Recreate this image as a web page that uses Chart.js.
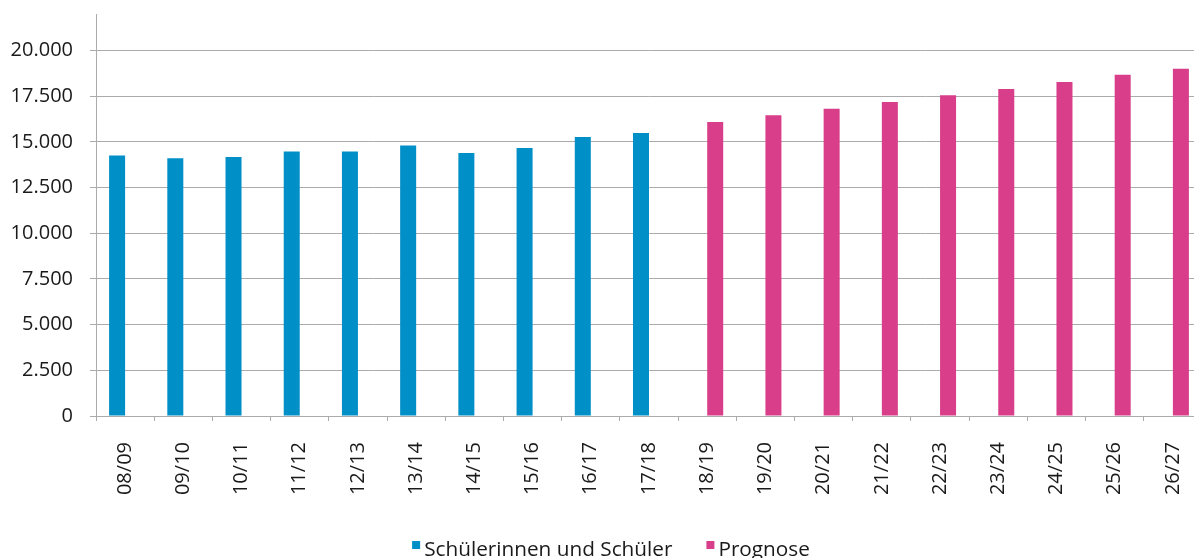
<!DOCTYPE html>
<html>
<head>
<meta charset="utf-8">
<title>Schülerinnen und Schüler – Prognose</title>
<script src="https://cdn.jsdelivr.net/npm/chart.js@4/dist/chart.umd.min.js"></script>
<style>
  html, body { margin: 0; padding: 0; overflow: hidden; background: #fff; }
  #wrap { position: relative; width: 1204px; height: 572px; }
</style>
</head>
<body>
<div id="wrap"><canvas id="chart" width="1204" height="572"></canvas></div>
<script>
// school years
const years = ["08/09", "09/10", "10/11", "11/12", "12/13", "13/14", "14/15", "15/16", "16/17", "17/18",
               "18/19", "19/20", "20/21", "21/22", "22/23", "23/24", "24/25", "25/26", "26/27"];

// actual numbers 08/09 – 17/18
const schueler = [14250, 14100, 14175, 14480, 14480, 14810, 14390, 14670, 15270, 15490];
// forecast 18/19 – 26/27
const prognose = [16090, 16460, 16820, 17190, 17550, 17900, 18280, 18670, 19000];

const yTicks = [0, 2500, 5000, 7500, 10000, 12500, 15000, 17500, 20000];
const yMax = 22000;

const BLUE = "#008fc6";
const PINK = "#d93e8a";
const GRID = "#ababab";
const TEXT = "#1a1a1a";
const FONT = "'Open Sans'";

// pad each series so both share the same category axis
const schuelerData = years.map((_, i) => i < schueler.length ? schueler[i] : null);
const prognoseData = years.map((_, i) => i >= schueler.length ? prognose[i - schueler.length] : null);

const fmt = v => v.toLocaleString("de-DE");

// small square + label legend under the axis
const legendBelow = {
  id: "legendBelow",
  afterDraw(chart) {
    const ctx = chart.ctx;
    const box = 8, gap = 4, spacing = 34, baseline = 556, centre = 611;
    ctx.save();
    ctx.font = `20.75px ${FONT}`;
    ctx.textBaseline = "alphabetic";
    const items = chart.data.datasets.map(ds => ({
      text: ds.label,
      color: ds.backgroundColor,
      w: ctx.measureText(ds.label).width
    }));
    const total = items.reduce((s, it) => s + box + gap + it.w, 0) + spacing * (items.length - 1);
    let x = centre - total / 2;
    items.forEach(it => {
      ctx.fillStyle = it.color;
      ctx.fillRect(x, baseline - 15, box, box);
      x += box + gap;
      ctx.fillStyle = TEXT;
      ctx.fillText(it.text, x, baseline);
      x += it.w + spacing;
    });
    ctx.restore();
  }
};

new Chart(document.getElementById("chart"), {
  type: "bar",
  data: {
    labels: years,
    datasets: [
      { label: "Schülerinnen und Schüler", data: schuelerData, backgroundColor: BLUE },
      { label: "Prognose", data: prognoseData, backgroundColor: PINK }
    ]
  },
  options: {
    responsive: false,
    animation: false,
    categoryPercentage: 0.55,
    barPercentage: 1,
    layout: { padding: { top: 14, right: 2, left: 0, bottom: 42 } },
    plugins: {
      tooltip: { enabled: false },
      legend: { display: false }
    },
    scales: {
      x: {
        grid: {
          display: true,
          drawOnChartArea: false,
          tickLength: 5,
          color: GRID,
          offset: true
        },
        border: { color: GRID },
        ticks: {
          minRotation: 90,
          maxRotation: 90,
          padding: 21,
          color: TEXT,
          font: { family: FONT, size: 20 }
        },
        afterFit: scale => {
          scale.height = 114;
          scale.paddingLeft = 0;
          scale.paddingRight = 0;
        }
      },
      y: {
        min: 0,
        max: yMax,
        grid: { color: GRID, tickLength: 6 },
        border: { color: GRID },
        ticks: {
          padding: 17,
          color: TEXT,
          font: { family: FONT, size: 20 },
          callback: v => fmt(v)
        },
        afterBuildTicks: scale => {
          scale.ticks = yTicks.map(v => ({ value: v }));
        },
        afterFit: scale => {
          scale.width = 96;
          scale.paddingTop = 0;
          scale.paddingBottom = 0;
        }
      }
    }
  },
  plugins: [legendBelow]
});
</script>
</body>
</html>
